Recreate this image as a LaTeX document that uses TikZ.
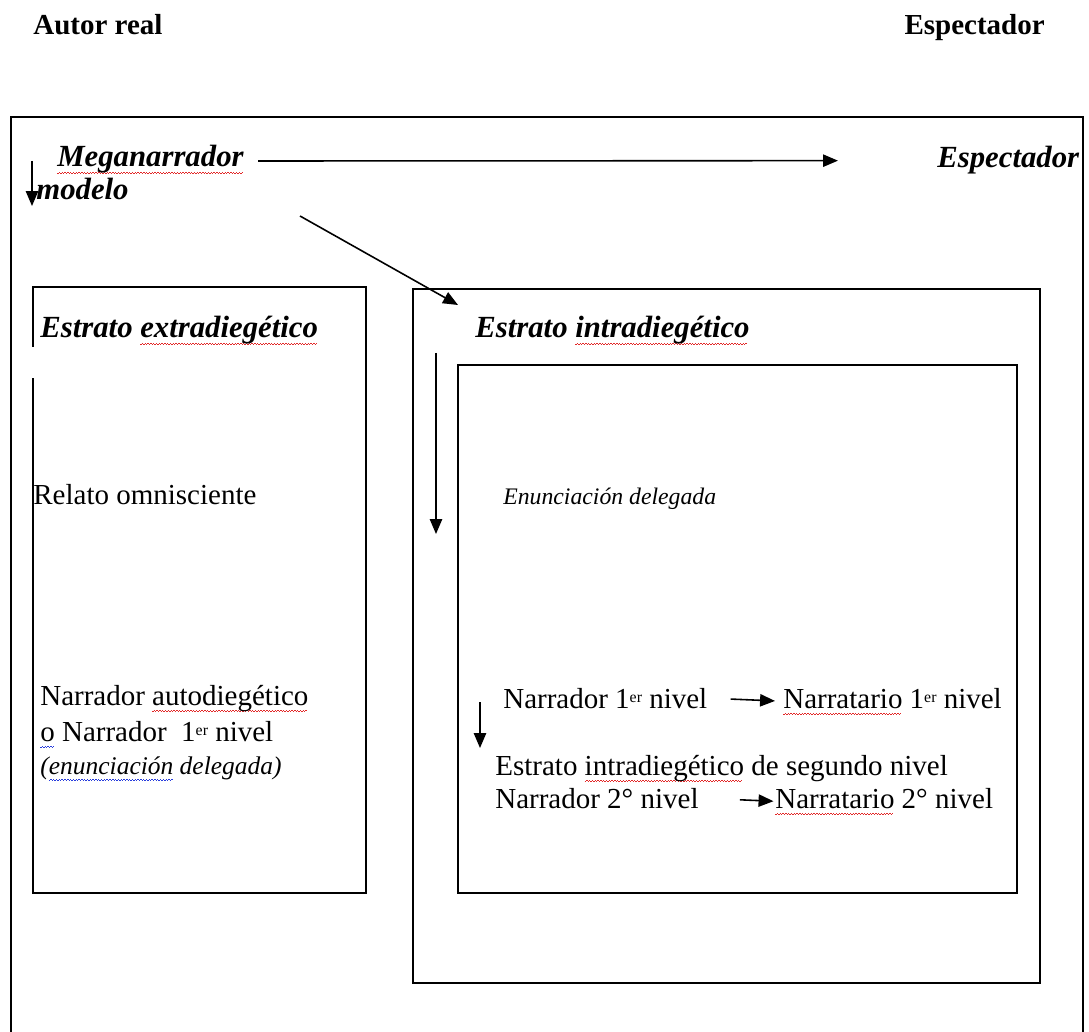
\documentclass[tikz,border=0pt]{standalone}
\usepackage{fontspec}
\setmainfont{Liberation Serif}
\usetikzlibrary{arrows.meta, positioning}
\definecolor{spellred}{RGB}{226, 40, 40}
\definecolor{spellblue}{RGB}{40, 60, 220}
\newcommand\wavebit{\hbox{\rule[-3.8pt]{0.8pt}{0.5pt}\rule[-3.1pt]{0.8pt}{0.5pt}}}
\newcommand\redwave[1]{\setbox0=\hbox{#1}\rlap{\textcolor{spellred}{\leaders\wavebit\hskip\wd0}}\box0\relax}
\newcommand\bluewave[1]{\setbox0=\hbox{#1}\rlap{\textcolor{spellblue}{\leaders\wavebit\hskip\wd0}}\box0\relax}
\newcommand\ersup{\raisebox{0.45ex}{\fontsize{9}{9}\selectfont er}}

\begin{document}
\begin{tikzpicture}[x=0.2mm, y=-0.2mm,
  frame/.style={line width=0.9pt},
  arr/.style={line width=0.9pt, -{Triangle[length=8.5pt, width=7pt]}},
  boldlbl/.style={anchor=base west, inner sep=0pt, font=\fontsize{16.5}{19}\selectfont\bfseries},
  stratum/.style={anchor=base west, inner sep=0pt, font=\fontsize{17.5}{20}\selectfont\bfseries\itshape},
  plain/.style={anchor=base west, inner sep=0pt, font=\fontsize{16.5}{19}\selectfont},
  delegated/.style={anchor=base west, inner sep=0pt, font=\fontsize{14}{17}\selectfont\itshape}]
  \useasboundingbox (0,0) rectangle (1089,1032);

  % frames
  \draw[frame] (11,1032) -- (11,117) -- (1083,117) -- (1083,1032);
  \draw[frame] (33,347) -- (33,287) -- (366,287) -- (366,893) -- (33,893) -- (33,378);
  \draw[frame] (413,289) rectangle (1040,983);
  \draw[frame] (458,365) rectangle (1017,893);

  \node[boldlbl] (autor) at (33,35) {Autor real};
  \node[boldlbl, anchor=base east] (espreal) at (1045,35) {Espectador};

  \node[stratum] (mega) at (57,167) {\redwave{Meganarrador}};
  \node[stratum] (modelo) at (36,200) {modelo};
  \node[stratum] (espmodel) at (937,168) {Espectador};

  \node[stratum] (extra) at (40,338) {Estrato \redwave{extradiegético}};
  \node[stratum] (intra) at (475,338) {Estrato \redwave{intradiegético}};

  \node[plain] (relato) at (33,505) {Relato omnisciente};
  \node[delegated, font=\fontsize{13.5}{16}\selectfont\itshape] (enun) at (503,505) {Enunciación delegada};

  \node[plain] (autod) at (40,705) {Narrador \redwave{autodiegético}};
  \node[plain] (autodniv) at (40,741) {\bluewave{o} Narrador\ \ 1\ersup{} nivel};
  \node[delegated, font=\fontsize{14.5}{17}\selectfont\itshape] (autoddel) at (40,774) {(\bluewave{enunciación} delegada)};

  \node[plain] (nar1) at (503,708) {Narrador 1\ersup{} nivel};
  \node[plain] (nart1) at (783,708) {\redwave{Narratario} 1\ersup{} nivel};
  \node[plain] (segundo) at (495,775) {Estrato \redwave{intradiegético} de segundo nivel};
  \node[plain] (nar2) at (495,808) {Narrador 2° nivel};
  \node[plain] (nart2) at (775,808) {\redwave{Narratario} 2° nivel};

  \coordinate (megafrom) at (258,161);
  \coordinate (megadown) at (32,161);
  \coordinate (modelotip) at (32,206);
  \coordinate (diagfrom) at (300,216);
  \coordinate (diagto) at (458,305);
  \coordinate (intradown) at (436,353);
  \coordinate (intratip) at (436,534);
  \coordinate (segdown) at (480,702);
  \coordinate (segtip) at (480,748);

  \draw[arr, shorten >=19.8mm] (megafrom) -- (espmodel.west);
  \draw[arr] (megadown) -- (modelotip);
  \draw[arr] (diagfrom) -- (diagto);
  \draw[arr] (intradown) -- (intratip);
  \draw[arr] (segdown) -- (segtip);
  \draw[arr, shorten <=4.6mm, shorten >=1.6mm] (nar1.east) -- (nart1.west);
  \draw[arr, shorten <=8.2mm, shorten >=0.3mm] (nar2.east) -- (nart2.west);
\end{tikzpicture}
\end{document}
